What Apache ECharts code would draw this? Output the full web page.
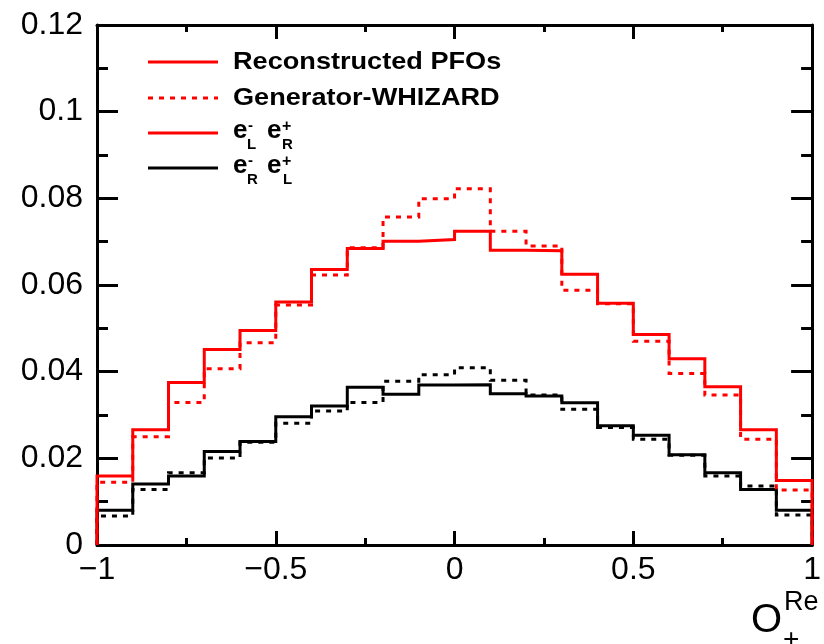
<!DOCTYPE html>
<html>
<head>
<meta charset="utf-8">
<script src="https://cdn.jsdelivr.net/npm/echarts@6/dist/echarts.min.js"></script>
<style>
html,body{margin:0;padding:0;background:#fff;}
#chart{width:824px;height:644px;}
</style>
</head>
<body>
<div id="chart"></div>
<script>
// Bin edges of the O_+^Re histogram
const binEdges = [-1, -0.9, -0.8, -0.7, -0.6, -0.5, -0.4, -0.3, -0.2, -0.1, 0, 0.1, 0.2, 0.3, 0.4, 0.5, 0.6, 0.7, 0.8, 0.9, 1];
// e-_L e+_R, reconstructed PFOs (red solid)
const lrReco = [0.0159, 0.0266, 0.0375, 0.0451, 0.0495, 0.0561, 0.0636, 0.0684, 0.0701, 0.0705, 0.0724, 0.0680, 0.0679, 0.0625, 0.0558, 0.0486, 0.0430, 0.0365, 0.0266, 0.0149];
// e-_L e+_R, generator WHIZARD (red dotted)
const lrGen = [0.0145, 0.0250, 0.0329, 0.0407, 0.0467, 0.0554, 0.0623, 0.0686, 0.0757, 0.0799, 0.0822, 0.0724, 0.0690, 0.0588, 0.0557, 0.0470, 0.0396, 0.0346, 0.0244, 0.0127];
// e-_R e+_L, reconstructed PFOs (black solid)
const rlReco = [0.0080, 0.0141, 0.0159, 0.0216, 0.0239, 0.0296, 0.0321, 0.0364, 0.0348, 0.0369, 0.0370, 0.0349, 0.0344, 0.0328, 0.0275, 0.0253, 0.0208, 0.0167, 0.0128, 0.0080];
// e-_R e+_L, generator WHIZARD (black dotted)
const rlGen = [0.0067, 0.0128, 0.0167, 0.0201, 0.0237, 0.0281, 0.0309, 0.0329, 0.0378, 0.0393, 0.0409, 0.0380, 0.0346, 0.0313, 0.0271, 0.0244, 0.0207, 0.0159, 0.0136, 0.0069];
const xTickLabels = ['\u22121', '\u22120.5', '0', '0.5', '1'];
const yTickLabels = ['0', '0.02', '0.04', '0.06', '0.08', '0.1', '0.12'];

function histPoints(vals) {
  const pts = [[binEdges[0], 0]];
  for (let i = 0; i < vals.length; i++) pts.push([binEdges[i], vals[i]]);
  pts.push([binEdges[binEdges.length - 1], vals[vals.length - 1]]);
  pts.push([binEdges[binEdges.length - 1], 0]);
  return pts;
}

const FONT = 'Liberation Sans';
const RED = '#ff0000';
const DOT = [5, 6];

function xLabel(v) {
  const idx = Math.round((v + 1) / 0.5);
  return xTickLabels[idx] !== undefined ? xTickLabels[idx] : '';
}
function yLabel(v) {
  const idx = Math.round(v / 0.02);
  return yTickLabels[idx] !== undefined ? yTickLabels[idx] : '';
}

const axisCommon = {
  axisLine: {show: true, onZero: false, lineStyle: {color: '#000', width: 3}},
  splitLine: {show: false}
};

const chart = echarts.init(document.getElementById('chart'), null, {renderer: 'canvas'});

function histSeries(name, vals, color, dotted, z) {
  return {
    name: name, type: 'line', step: 'end', symbol: 'none', z: z,
    data: histPoints(vals),
    lineStyle: {color: color, width: 3, type: dotted ? DOT : 'solid', cap: 'butt', join: 'miter'},
    itemStyle: {color: color},
    animation: false
  };
}

function legendLine(y, color, dotted) {
  return {type: 'line', shape: {x1: 148, y1: y, x2: 218, y2: y},
    style: {stroke: color, lineWidth: 3, lineDash: dotted ? DOT : null}};
}
function txt(x, y, text, size, weight, sx) {
  return {type: 'text', x: x, y: y, scaleX: sx || 1,
    style: {text: text, fontFamily: FONT, fontWeight: weight || 'bold', fontSize: size, fill: '#000',
      align: 'left', verticalAlign: 'middle'}};
}

const option = {
  backgroundColor: '#fff',
  animation: false,
  grid: {left: 97, right: 6, top: 25, bottom: 99, containLabel: false},
  xAxis: [
    Object.assign({}, axisCommon, {
      type: 'value', min: -1, max: 1, interval: 0.5, position: 'bottom',
      axisTick: {show: true, inside: true, length: 14, lineStyle: {color: '#000', width: 3}},
      minorTick: {show: true, splitNumber: 2, length: 7, lineStyle: {color: '#000', width: 3}},
      axisLabel: {show: true, formatter: xLabel, fontFamily: FONT, fontSize: 32, color: '#000', margin: 9}
    }),
    Object.assign({}, axisCommon, {
      type: 'value', min: -1, max: 1, interval: 0.5, position: 'top',
      axisTick: {show: true, inside: true, length: 14, lineStyle: {color: '#000', width: 3}},
      minorTick: {show: true, splitNumber: 2, length: 7, lineStyle: {color: '#000', width: 3}},
      axisLabel: {show: false}
    })
  ],
  yAxis: [
    Object.assign({}, axisCommon, {
      type: 'value', min: 0, max: 0.12, interval: 0.02, position: 'left',
      axisTick: {show: true, inside: true, length: 21, lineStyle: {color: '#000', width: 3}},
      minorTick: {show: true, splitNumber: 2, length: 11, lineStyle: {color: '#000', width: 3}},
      axisLabel: {show: true, formatter: yLabel, fontFamily: FONT, fontSize: 32, color: '#000', margin: 14}
    }),
    Object.assign({}, axisCommon, {
      type: 'value', min: 0, max: 0.12, interval: 0.02, position: 'right',
      axisTick: {show: true, inside: true, length: 21, lineStyle: {color: '#000', width: 3}},
      minorTick: {show: true, splitNumber: 2, length: 11, lineStyle: {color: '#000', width: 3}},
      axisLabel: {show: false}
    })
  ],
  series: [
    histSeries('e-R e+L Generator-WHIZARD', rlGen, '#000', true, 2),
    histSeries('e-R e+L Reconstructed PFOs', rlReco, '#000', false, 3),
    histSeries('e-L e+R Generator-WHIZARD', lrGen, RED, true, 4),
    histSeries('e-L e+R Reconstructed PFOs', lrReco, RED, false, 5)
  ],
  graphic: [
    // legend
    legendLine(62, RED, false),
    legendLine(98, RED, true),
    legendLine(133, RED, false),
    legendLine(168, '#000', false),
    txt(233, 62, 'Reconstructed PFOs', 24, 'bold', 1.13),
    txt(233, 98, 'Generator-WHIZARD', 24, 'bold', 1.13),
    // e_L^- e_R^+
    txt(233, 131, 'e', 26),
    txt(248, 126, '-', 15),
    txt(247, 145, 'L', 15),
    txt(267, 131, 'e', 26),
    txt(282, 127, '+', 16),
    txt(282, 145, 'R', 15),
    // e_R^- e_L^+
    txt(233, 166, 'e', 26),
    txt(248, 161, '-', 15),
    txt(247, 180, 'R', 15),
    txt(267, 166, 'e', 26),
    txt(282, 162, '+', 16),
    txt(283, 180, 'L', 15),
    // x axis title O_+^Re
    txt(751, 621, 'O', 40, 'normal'),
    txt(784, 603, 'Re', 27, 'normal'),
    txt(783, 640, '+', 28, 'normal')
  ]
};
chart.setOption(option);
</script>
</body>
</html>
